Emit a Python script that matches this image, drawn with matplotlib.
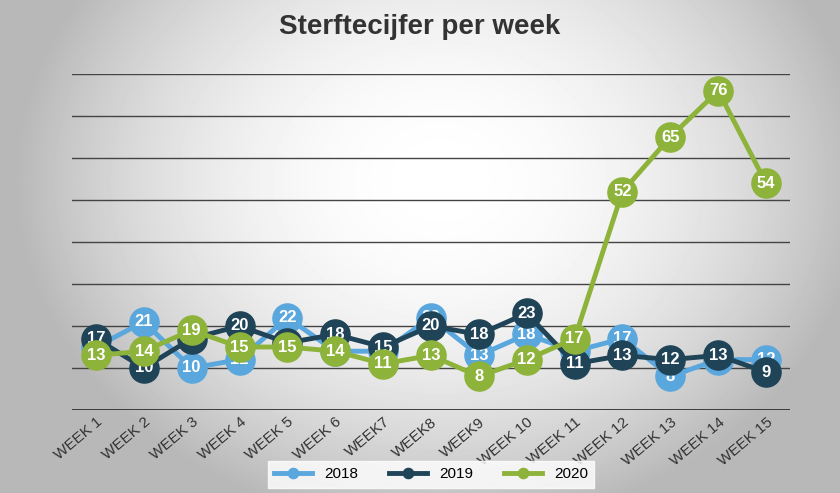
import matplotlib
matplotlib.use("Agg")
import matplotlib.pyplot as plt
import numpy as np

plt.rcParams["font.family"] = "Liberation Sans"

weeks = ["WEEK 1","WEEK 2","WEEK 3","WEEK 4","WEEK 5","WEEK 6","WEEK7","WEEK8","WEEK9","WEEK 10","WEEK 11","WEEK 12","WEEK 13","WEEK 14","WEEK 15"]
s2018 = [15,21,10,12,22,14,14,22,13,18,14,17,8,12,12]
s2019 = [17,10,17,20,16,18,15,20,18,23,11,13,12,13,9]
s2020 = [13,14,19,15,15,14,11,13,8,12,17,52,65,76,54]
series = [("2018", s2018, "#5aa7de"), ("2019", s2019, "#1f4357"), ("2020", s2020, "#8db33a")]

fig = plt.figure(figsize=(8.4, 4.93), dpi=100)
bg = fig.add_axes([0, 0, 1, 1])
yy, xx = np.mgrid[0:493, 0:840]
r = np.sqrt(((xx - 440) / 440.0) ** 2 + ((yy - 180) / 360.0) ** 2)
img = np.clip(1 - 0.3 * r ** 2, 0.72, 1)
bg.imshow(img, cmap="gray", vmin=0, vmax=1, aspect="auto")
bg.axis("off")

ax = fig.add_axes([72/840, 1 - 410/493, (790-72)/840, (410-74)/493])
ax.set_facecolor("none")
x = np.arange(len(weeks))
for i, (name, vals, col) in enumerate(series):
    z = 3 + 2 * i
    ax.plot(x, vals, color=col, lw=3.5, marker="o", ms=21, label=name, zorder=z)
    for xi, v in zip(x, vals):
        ax.text(xi, v, str(v), ha="center", va="center", color="white",
                fontsize=12, fontweight="bold", zorder=z + 1)
ax.set_ylim(0, 80)
ax.set_xlim(-0.5, len(weeks) - 0.5)
ax.set_yticks(np.arange(0, 81, 10))
ax.yaxis.grid(True, color="#444444", lw=1)
ax.tick_params(axis="y", left=False, labelleft=False)
ax.tick_params(axis="x", length=0)
ax.set_xticks(x)
ax.set_xticklabels(weeks, rotation=40, ha="right", rotation_mode="anchor", fontsize=11, color="#333333")
for s in ax.spines.values():
    s.set_visible(False)
ax.axhline(0, color="#333333", lw=2)
fig.text(0.5, 0.945, "Sterftecijfer per week", ha="center", va="center",
         fontsize=20, fontweight="bold", color="#333333")
leg = ax.legend(loc="upper center", bbox_to_anchor=(0.5, -0.13), ncol=3, frameon=True,
                fontsize=11, markerscale=0.35, handlelength=2.5, fancybox=False)
leg.get_frame().set_facecolor("white")
leg.get_frame().set_edgecolor("white")
fig.savefig("out.png", dpi=100)
